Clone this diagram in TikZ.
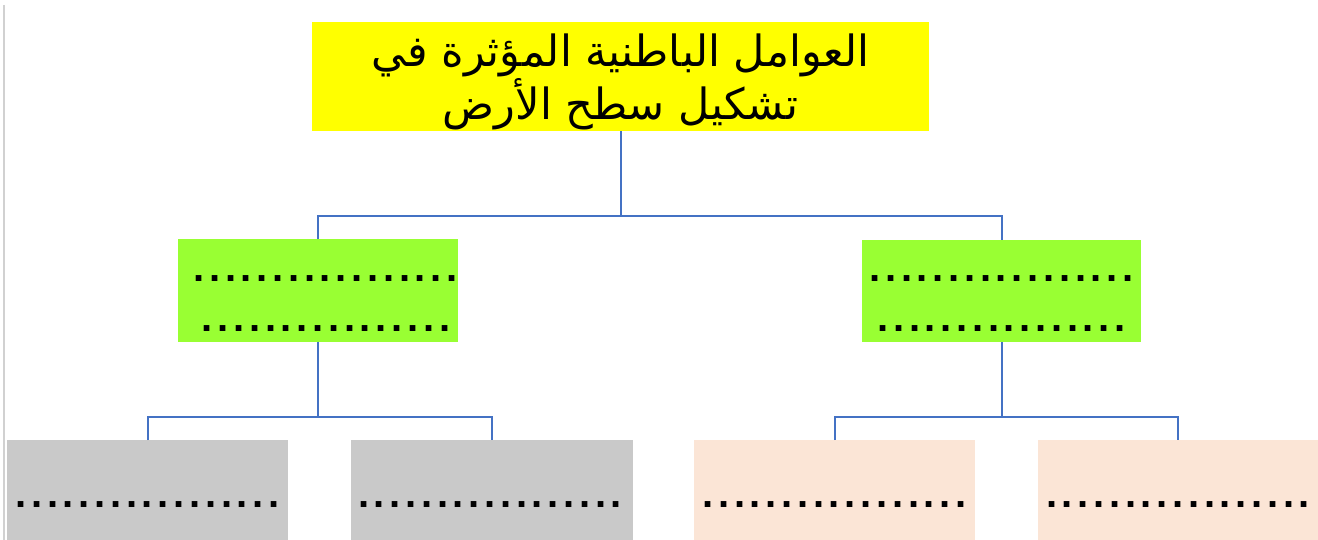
\documentclass[tikz,border=0pt]{standalone}
\usepackage{fontspec}
\setmainfont{Liberation Sans}
\newfontfamily\arabicfont[Script=Arabic]{DejaVu Sans}
\TeXXeTstate=1
\usepackage{tikz}

\definecolor{titleyellow}{HTML}{FFFF00}
\definecolor{limegreen}{HTML}{99FF33}
\definecolor{boxgray}{HTML}{C9C9C9}
\definecolor{boxpeach}{HTML}{FBE5D6}
\definecolor{linkblue}{HTML}{4472C4}

% a row of evenly spaced dots
\newcommand\dotrow[1]{\foreach \i in {1,...,#1}{\makebox[15.8pt]{.}}}

\begin{document}
\begin{tikzpicture}[x=1pt, y=-1pt,
        box/.style={inner sep=0pt, minimum height=102pt},
        link/.style={draw=linkblue, line width=2pt},
        dots/.style={inner sep=0pt, anchor=base, font=\fontsize{40}{40}\selectfont\bfseries}]
        \useasboundingbox (0,0) rectangle (1318,540);
        \clip (0,0) rectangle (1318,540);

        % Page edge
        \draw[black!18, line width=2pt] (4,5) -- (4,540);

        % Title
        \node[box, fill=titleyellow, minimum width=617pt, minimum height=109pt] (title) at (620.5,76.5) {};
        \node[align=center, inner sep=0pt, font=\fontsize{43}{43}\selectfont] (titletext) at (620.5,82)
              {\arabicfont\beginR العوامل الباطنية المؤثرة في\endR\\
               \arabicfont\beginR تشكيل سطح الأرض\endR};

        % Second level
        \node[box, fill=limegreen, minimum width=280pt] (gleft) at (318,290.5) {};
        \node[box, fill=limegreen, minimum width=279pt] (gright) at (1001.5,291) {};
        \node[dots] (gleftA) at (325.5,282) {\dotrow{17}};
        \node[dots] (gleftB) at (326,331) {\dotrow{16}};
        \node[dots] (grightA) at (1001.5,282) {\dotrow{17}};
        \node[dots] (grightB) at (1001.5,331) {\dotrow{16}};

        % Third level
        \node[box, fill=boxgray, minimum width=281pt, minimum height=140pt, anchor=north] (bA) at (147.5,440) {};
        \node[box, fill=boxgray, minimum width=282pt, minimum height=140pt, anchor=north] (bB) at (492,440) {};
        \node[box, fill=boxpeach, minimum width=281pt, minimum height=140pt, anchor=north] (bC) at (834.5,440) {};
        \node[box, fill=boxpeach, minimum width=280pt, minimum height=140pt, anchor=north] (bD) at (1178,440) {};
        \node[dots] (dA) at (147.5,507) {\dotrow{17}};
        \node[dots] (dB) at (490,507) {\dotrow{17}};
        \node[dots] (dC) at (834.5,507) {\dotrow{17}};
        \node[dots] (dD) at (1178,507) {\dotrow{17}};

        % Connectors
        \coordinate (jtop) at (620.5,216);
        \coordinate (jleft) at (318,417);
        \coordinate (jright) at (1001.5,417);
        \draw[link] (title.south) -- (jtop);
        \draw[link] (gleft.north) |- (jtop) -| (gright.north);
        \draw[link] (gleft.south) -- (jleft);
        \draw[link] (bA.north) |- (jleft) -| (bB.north);
        \draw[link] (gright.south) -- (jright);
        \draw[link] (bC.north) |- (jright) -| (bD.north);
\end{tikzpicture}
\end{document}
